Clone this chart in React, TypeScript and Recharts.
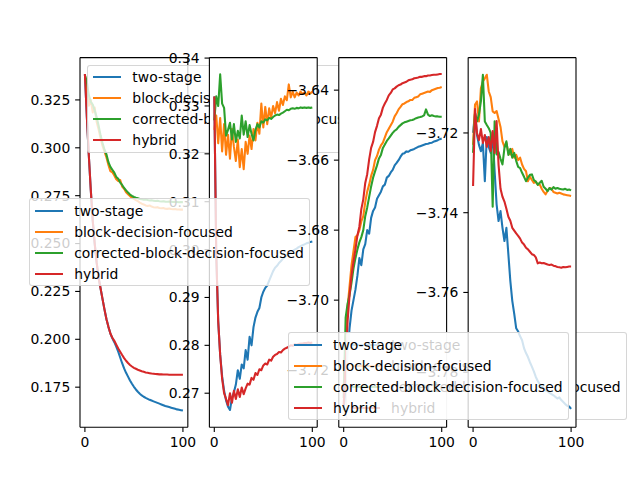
import React from "react";
import { LineChart, Line, XAxis, YAxis, CartesianGrid } from "recharts";

/* x positions shared by every series */
const STEPS = [
  0, 2, 4, 6, 8, 10, 12, 14, 16, 18,
  20, 22, 24, 26, 28, 30, 32, 34, 36, 38,
  40, 42, 44, 46, 48, 50, 52, 54, 56, 58,
  60, 62, 64, 66, 68, 70, 72, 74, 76, 78,
  80, 82, 84, 86, 88, 90, 92, 94, 96, 98,
  100,
];

const NAMES = ["two-stage", "block-decision-focused", "corrected-block-decision-focused", "hybrid"];
const COLORS = ["#1f77b4", "#ff7f0e", "#2ca02c", "#d62728"];
const X_TICKS = [0, 100];

/* ── panel 1 ── */
const p1TwoStage = [
  0.3385, 0.316, 0.296, 0.278, 0.262, 0.25, 0.24, 0.232, 0.2265, 0.221,
  0.2155, 0.2105, 0.2065, 0.203, 0.2005, 0.1985, 0.1962, 0.1935, 0.1905, 0.1875,
  0.1848, 0.1825, 0.1805, 0.1785, 0.1768, 0.1752, 0.1738, 0.1726, 0.1716, 0.1707,
  0.17, 0.1694, 0.1689, 0.1684, 0.168, 0.1676, 0.1672, 0.1668, 0.1664, 0.166,
  0.1656, 0.1652, 0.1649, 0.1646, 0.1643, 0.164, 0.1637, 0.1634, 0.1632, 0.163,
  0.1628,
];
const p1Block = [
  0.338, 0.33, 0.322, 0.325, 0.3185, 0.321, 0.3135, 0.3095, 0.305, 0.301,
  0.298, 0.295, 0.291, 0.2878, 0.2872, 0.2855, 0.2836, 0.2826, 0.2832, 0.2798,
  0.2786, 0.2768, 0.2758, 0.2748, 0.274, 0.2733, 0.2727, 0.2721, 0.2714, 0.2708,
  0.2704, 0.2699, 0.2696, 0.2699, 0.2693, 0.269, 0.2688, 0.269, 0.2686, 0.2684,
  0.2685, 0.2682, 0.2681, 0.2683, 0.268, 0.2679, 0.268, 0.2678, 0.2678, 0.2677,
  0.2677,
];
const p1Corrected = [
  0.338, 0.3345, 0.3275, 0.324, 0.3225, 0.3195, 0.316, 0.3115, 0.3065, 0.3025,
  0.299, 0.2965, 0.2925, 0.29, 0.2885, 0.287, 0.2848, 0.2838, 0.2818, 0.2806,
  0.279, 0.2778, 0.2766, 0.2756, 0.2749, 0.2743, 0.2739, 0.2736, 0.2733, 0.2731,
  0.2729, 0.273, 0.2727, 0.2725, 0.2726, 0.2724, 0.2722, 0.2723, 0.2721, 0.272,
  0.2721, 0.2719, 0.2718, 0.2719, 0.2718, 0.2717, 0.2718, 0.2717, 0.2716, 0.2717,
  0.2716,
];
const p1Hybrid = [
  0.3385, 0.316, 0.296, 0.278, 0.262, 0.25, 0.24, 0.232, 0.2265, 0.221,
  0.2155, 0.2105, 0.2065, 0.203, 0.2008, 0.1992, 0.1972, 0.1952, 0.1935, 0.1918,
  0.1902, 0.1888, 0.1876, 0.1866, 0.1858, 0.1851, 0.1846, 0.1841, 0.1837, 0.1833,
  0.183, 0.1827, 0.1825, 0.1823, 0.1821, 0.182, 0.1819, 0.1818, 0.1817, 0.1817,
  0.1816, 0.1816, 0.1816, 0.1815, 0.1815, 0.1815, 0.1815, 0.1815, 0.1815, 0.1815,
  0.1815,
];
const p1Ticks = [0.175, 0.2, 0.225, 0.25, 0.275, 0.3, 0.325];

/* ── panel 2 ── */
const p2TwoStage = [
  0.332, 0.299, 0.285, 0.278, 0.2735, 0.2705, 0.2685, 0.2672, 0.2665, 0.269,
  0.2702, 0.2718, 0.2748, 0.273, 0.276, 0.2752, 0.279, 0.277, 0.2818, 0.28,
  0.2838, 0.2858, 0.287, 0.2878, 0.29, 0.2912, 0.292, 0.2925, 0.2935, 0.2945,
  0.2955, 0.2962, 0.2966, 0.2972, 0.2976, 0.2981, 0.2985, 0.2988, 0.2991, 0.2994,
  0.2997, 0.3, 0.3002, 0.3005, 0.3007, 0.3009, 0.3011, 0.3013, 0.3014, 0.3016,
  0.3017,
];
const p2Block = [
  0.325, 0.328, 0.3222, 0.3275, 0.3205, 0.3262, 0.3198, 0.324, 0.319, 0.3252,
  0.3215, 0.3185, 0.323, 0.3172, 0.321, 0.3168, 0.3225, 0.32, 0.3238, 0.321,
  0.3252, 0.3228, 0.3265, 0.3242, 0.3305, 0.3255, 0.3298, 0.3262, 0.3295, 0.3275,
  0.33, 0.3285, 0.3308, 0.329, 0.3315, 0.3302, 0.332, 0.3312, 0.3345, 0.3318,
  0.333, 0.3318, 0.3328, 0.3322, 0.333, 0.3325, 0.3328, 0.3322, 0.333, 0.3326,
  0.333,
];
const p2Corrected = [
  0.327, 0.332, 0.33, 0.3366, 0.3305, 0.3296, 0.3238, 0.325, 0.3265, 0.323,
  0.3262, 0.3225, 0.3248, 0.3232, 0.328, 0.324, 0.3268, 0.3235, 0.326, 0.3242,
  0.3228, 0.325, 0.3262, 0.3255, 0.3268, 0.3265, 0.3272, 0.327, 0.3275, 0.3273,
  0.3277, 0.328, 0.3282, 0.3281, 0.3284, 0.3286, 0.3289, 0.3292, 0.3291, 0.3294,
  0.3295, 0.3294, 0.3296, 0.3295, 0.3297, 0.3296, 0.3297, 0.3296, 0.3297, 0.3296,
  0.3297,
];
const p2Hybrid = [
  0.332, 0.299, 0.285, 0.278, 0.273, 0.27, 0.2688, 0.2675, 0.27, 0.268,
  0.2705, 0.2688, 0.2708, 0.2692, 0.2712, 0.2698, 0.271, 0.272, 0.2718, 0.2732,
  0.2728, 0.2742, 0.2738, 0.275, 0.2748, 0.2758, 0.2762, 0.276, 0.277, 0.2768,
  0.2776, 0.278, 0.2782, 0.2786, 0.2785, 0.279, 0.2793, 0.2795, 0.2797, 0.28,
  0.2799, 0.2802, 0.2801, 0.2803, 0.2804, 0.2804, 0.2805, 0.2805, 0.2806, 0.2805,
  0.2806,
];
const p2Ticks = [0.27, 0.28, 0.29, 0.3, 0.31, 0.32, 0.33, 0.34];

/* ── panel 3 ── */
const p3TwoStage = [
  -3.7315, -3.724, -3.715, -3.708, -3.703, -3.7, -3.697, -3.693, -3.688, -3.69,
  -3.6855, -3.684, -3.68, -3.681, -3.6765, -3.6745, -3.6735, -3.671, -3.67, -3.669,
  -3.6675, -3.667, -3.665, -3.6645, -3.6635, -3.6628, -3.6615, -3.6608, -3.66, -3.659,
  -3.6582, -3.658, -3.6575, -3.6576, -3.6572, -3.657, -3.6568, -3.6565, -3.6562, -3.656,
  -3.6558, -3.6556, -3.6554, -3.6553, -3.6551, -3.655, -3.6547, -3.6545, -3.6543, -3.654,
  -3.6538,
];
const p3Block = [
  -3.725, -3.712, -3.702, -3.696, -3.69, -3.686, -3.682, -3.6815, -3.68, -3.6775,
  -3.676, -3.672, -3.669, -3.667, -3.6645, -3.6628, -3.66, -3.6588, -3.657, -3.6558,
  -3.655, -3.6535, -3.652, -3.651, -3.65, -3.649, -3.6475, -3.6466, -3.6455, -3.6448,
  -3.644, -3.6438, -3.6434, -3.6432, -3.6428, -3.6428, -3.6422, -3.642, -3.6418, -3.6412,
  -3.641, -3.6408, -3.6406, -3.6404, -3.6405, -3.64, -3.6398, -3.6396, -3.6394, -3.6393,
  -3.6391,
];
const p3Corrected = [
  -3.728, -3.705, -3.701, -3.6985, -3.695, -3.691, -3.688, -3.6855, -3.6835, -3.682,
  -3.68, -3.676, -3.6735, -3.6705, -3.6675, -3.665, -3.6632, -3.6615, -3.6595, -3.6585,
  -3.6565, -3.6555, -3.6545, -3.6538, -3.653, -3.6522, -3.6516, -3.6512, -3.6505, -3.65,
  -3.6495, -3.6492, -3.649, -3.6488, -3.6486, -3.6485, -3.6483, -3.648, -3.6478, -3.6477,
  -3.6475, -3.6472, -3.6455, -3.647, -3.6474, -3.6472, -3.6474, -3.6475, -3.6475, -3.6476,
  -3.6476,
];
const p3Hybrid = [
  -3.73, -3.718, -3.706, -3.6985, -3.693, -3.689, -3.6855, -3.6815, -3.679, -3.674,
  -3.6712, -3.6665, -3.664, -3.6598, -3.6565, -3.6548, -3.652, -3.6502, -3.648, -3.647,
  -3.645, -3.6438, -3.6428, -3.6415, -3.6408, -3.6398, -3.6395, -3.639, -3.6386, -3.6384,
  -3.638, -3.6378, -3.6376, -3.6372, -3.637, -3.6369, -3.6366, -3.6365, -3.6364, -3.6362,
  -3.6362, -3.636, -3.636, -3.6358, -3.6358, -3.6357, -3.6356, -3.6356, -3.6355, -3.6354,
  -3.6354,
];
const p3Ticks = [-3.72, -3.7, -3.68, -3.66, -3.64];

/* ── panel 4 ── */
const p4TwoStage = [
  -3.72, -3.715, -3.7205, -3.723, -3.7246, -3.7225, -3.7321, -3.721, -3.7235, -3.725,
  -3.7205, -3.7296, -3.7379, -3.7421, -3.7396, -3.7438, -3.7471, -3.7438, -3.7504, -3.7571,
  -3.7621, -3.7654, -3.769, -3.7698, -3.771, -3.772, -3.774, -3.7752, -3.7762, -3.7775,
  -3.7786, -3.7798, -3.7812, -3.7822, -3.783, -3.7835, -3.784, -3.7846, -3.7848, -3.7852,
  -3.7855, -3.7858, -3.7862, -3.7866, -3.7863, -3.787, -3.7875, -3.788, -3.7884, -3.7886,
  -3.7892,
];
const p4Block = [
  -3.723, -3.7129, -3.7121, -3.7171, -3.7088, -3.7071, -3.7063, -3.7054, -3.7096, -3.711,
  -3.7146, -3.715, -3.7145, -3.7165, -3.7185, -3.7221, -3.7235, -3.7225, -3.725, -3.7254,
  -3.724, -3.7262, -3.7255, -3.7268, -3.7262, -3.7279, -3.729, -3.7296, -3.7321, -3.731,
  -3.7318, -3.7325, -3.7322, -3.733, -3.7329, -3.734, -3.7348, -3.7354, -3.7345, -3.7338,
  -3.734, -3.7348, -3.735, -3.7352, -3.735, -3.7352, -3.7354, -3.7355, -3.7356, -3.7357,
  -3.7358,
];
const p4Corrected = [
  -3.725, -3.715, -3.7171, -3.7154, -3.712, -3.7054, -3.7171, -3.718, -3.7188, -3.72,
  -3.7385, -3.7171, -3.7254, -3.7248, -3.7265, -3.7279, -3.7238, -3.7221, -3.7255, -3.724,
  -3.7262, -3.725, -3.727, -3.7285, -3.7288, -3.73, -3.731, -3.7321, -3.7312, -3.7305,
  -3.7304, -3.7318, -3.7322, -3.733, -3.7325, -3.732, -3.7335, -3.734, -3.7346, -3.7338,
  -3.7342, -3.7336, -3.734, -3.7338, -3.734, -3.7341, -3.7342, -3.734, -3.7343, -3.7342,
  -3.7344,
];
const p4Hybrid = [
  -3.7333, -3.714, -3.72, -3.7218, -3.719, -3.7225, -3.7205, -3.7235, -3.721, -3.7245,
  -3.7195, -3.725, -3.717, -3.728, -3.734, -3.736, -3.7372, -3.739, -3.741, -3.742,
  -3.7438, -3.7445, -3.7452, -3.7458, -3.7465, -3.7475, -3.748, -3.7488, -3.7492, -3.7498,
  -3.7504, -3.7506, -3.7512, -3.7527, -3.7525, -3.7527, -3.7526, -3.7528, -3.753, -3.7531,
  -3.753, -3.7533, -3.7534, -3.7536, -3.7537, -3.7538, -3.7536, -3.7537, -3.7536, -3.7535,
  -3.7535,
];
const p4Ticks = [-3.78, -3.76, -3.74, -3.72];

/* ── figure layout (matplotlib defaults at 640x480) ── */
const FIG_W = 640;
const FIG_H = 480;
const PLOT_TOP = 57.6;
const PLOT_BOTTOM = 427.2;
const Y_AXIS_W = 60;
const X_AXIS_H = 30;
const FONT = "'DejaVu Sans', sans-serif";
const FS = 13.9;
const TICK = 4.86;

type PanelSpec = {
  series: number[][];
  domain: [number, number];
  ticks: number[];
  digits: number;
  left: number;
  right: number;
  legend: React.CSSProperties;
};

const PANELS: PanelSpec[] = [
  {
    series: [p1TwoStage, p1Block, p1Corrected, p1Hybrid],
    domain: [0.1541, 0.3471], ticks: p1Ticks, digits: 3,
    left: 80, right: 187.83,
    legend: { left: 86.95, top: 64.55 }, // upper left
  },
  {
    series: [p2TwoStage, p2Block, p2Corrected, p2Hybrid],
    domain: [0.2629, 0.3401], ticks: p2Ticks, digits: 2,
    left: 209.39, right: 317.22,
    legend: { right: 329.73, top: 198.4 }, // center right
  },
  {
    series: [p3TwoStage, p3Block, p3Corrected, p3Hybrid],
    domain: [-3.7363, -3.6307], ticks: p3Ticks, digits: 2,
    left: 338.78, right: 446.61,
    legend: { left: 345.73, top: 332.25 }, // lower left
  },
  {
    series: [p4TwoStage, p4Block, p4Corrected, p4Hybrid],
    domain: [-3.7938, -3.7011], ticks: p4Ticks, digits: 2,
    left: 468.17, right: 576,
    legend: { right: 70.95, top: 332.25 }, // lower right
  },
];

const fmt = (digits: number) => (v: number) => v.toFixed(digits).replace("-", "\u2212");

const tickStyle = { fill: "#000", fontSize: FS, fontFamily: FONT };
const spine = { stroke: "#000", strokeWidth: 1.1 };

function PanelChart({ panel }: { panel: PanelSpec }) {
  const rows = STEPS.map((x, i) => ({
    x,
    s0: panel.series[0][i],
    s1: panel.series[1][i],
    s2: panel.series[2][i],
    s3: panel.series[3][i],
  }));

  return (
    <div style={{ position: "absolute", left: 0, top: 0 }}>
      <LineChart
        width={FIG_W}
        height={FIG_H}
        data={rows}
        margin={{
          top: PLOT_TOP - 1,
          bottom: FIG_H - PLOT_BOTTOM - X_AXIS_H,
          left: panel.left - Y_AXIS_W,
          right: FIG_W - panel.right - 1,
        }}
      >
        {/* white axes background, hides whatever lies beneath */}
        <CartesianGrid horizontal={false} vertical={false} fill="#fff" fillOpacity={1} stroke="none" />
        <XAxis
          dataKey="x" type="number" domain={[-5, 105]} ticks={X_TICKS} interval={0}
          height={X_AXIS_H} tickSize={TICK} tickMargin={TICK}
          tick={tickStyle} tickLine={spine} axisLine={spine}
        />
        {/* top spine */}
        <XAxis
          xAxisId="top" orientation="top" type="number" domain={[-5, 105]} ticks={X_TICKS}
          height={1} tick={false} tickLine={false} axisLine={spine}
        />
        <YAxis
          type="number" domain={panel.domain} ticks={panel.ticks} interval={0} allowDataOverflow
          width={Y_AXIS_W} tickSize={TICK} tickMargin={TICK}
          tick={tickStyle} tickLine={spine} axisLine={spine}
          tickFormatter={fmt(panel.digits)}
        />
        {/* right spine */}
        <YAxis
          yAxisId="right" orientation="right" type="number" domain={panel.domain} ticks={panel.ticks}
          width={1} tick={false} tickLine={false} axisLine={spine}
        />
        {panel.series.map((_, k) => (
          <Line
            key={k}
            type="linear"
            dataKey={`s${k}`}
            name={NAMES[k]}
            stroke={COLORS[k]}
            strokeWidth={2.08}
            strokeLinejoin="round"
            dot={false}
            isAnimationActive={false}
          />
        ))}
      </LineChart>
    </div>
  );
}

function LegendBox({ style }: { style: React.CSSProperties }) {
  return (
    <div
      style={{
        position: "absolute",
        ...style,
        background: "rgba(255,255,255,0.8)",
        border: "1px solid rgba(204,204,204,0.8)",
        borderRadius: 3,
        padding: "1px 5.5px",
        fontFamily: FONT,
        fontSize: FS,
        color: "#000",
        whiteSpace: "nowrap",
      }}
    >
      {NAMES.map((name, k) => (
        <div key={name} style={{ display: "flex", alignItems: "center", height: 21 }}>
          <span
            style={{
              display: "inline-block",
              width: 27.8,
              height: 2.08,
              background: COLORS[k],
              marginRight: 11.1,
            }}
          />
          <span>{name}</span>
        </div>
      ))}
    </div>
  );
}

export default function App() {
  return (
    <div
      style={{
        position: "fixed",
        left: 0,
        top: 0,
        width: FIG_W,
        height: FIG_H,
        background: "#fff",
        overflow: "hidden",
        fontFamily: FONT,
      }}
    >
      {PANELS.map((p, i) => (
        <React.Fragment key={i}>
          <PanelChart panel={p} />
          <LegendBox style={p.legend} />
        </React.Fragment>
      ))}
    </div>
  );
}
